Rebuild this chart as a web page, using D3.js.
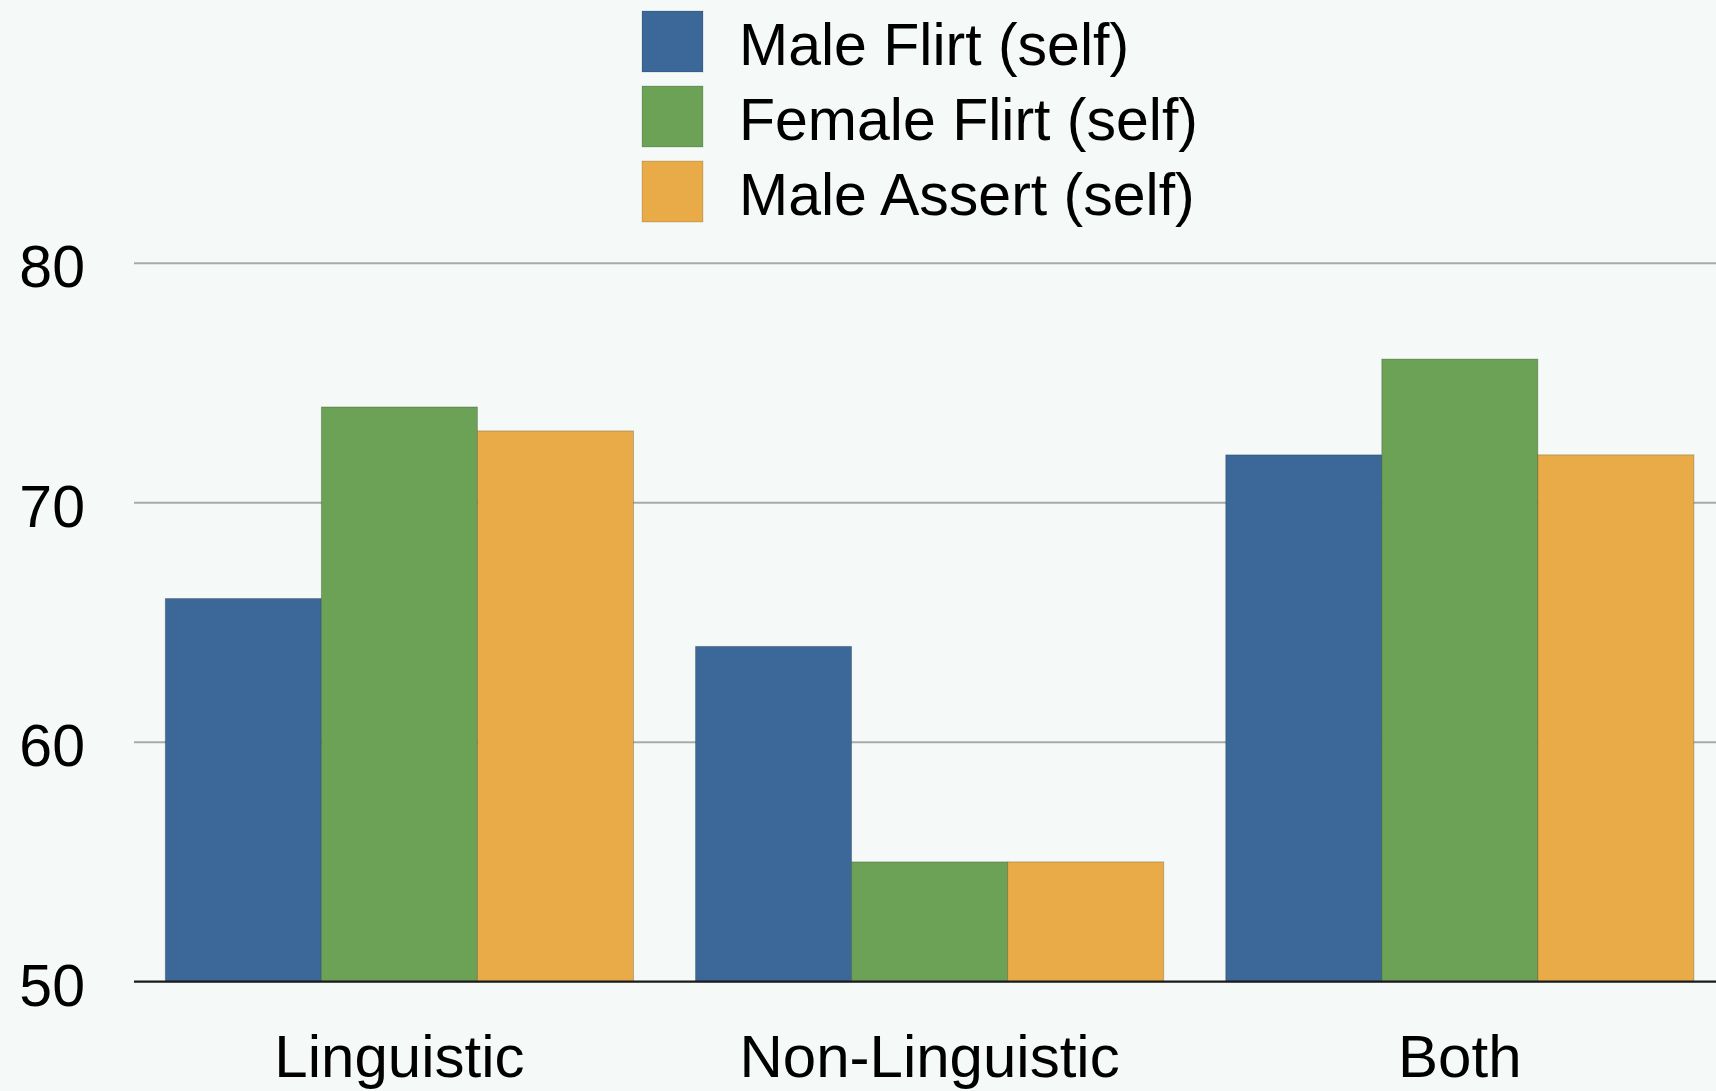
<!DOCTYPE html>
<html>
<head>
<meta charset="utf-8">
<script src="https://cdn.jsdelivr.net/npm/d3@7"></script>
<style>
  html, body { margin: 0; padding: 0; background: #f5f9f8; }
  svg { display: block; }
  text { font-family: "Liberation Sans", Arial, Helvetica, sans-serif; fill: #000; }
</style>
</head>
<body>
<svg id="chart" width="1716" height="1091"></svg>
<script>
const categories = ["Linguistic", "Non-Linguistic", "Both"];
const seriesNames = ["Male Flirt (self)", "Female Flirt (self)", "Male Assert (self)"];
const maleFlirt = [66, 64, 72];
const femaleFlirt = [74, 55, 76];
const maleAssert = [73, 55, 72];
const yTicks = [50, 60, 70, 80];
const colors = ["#3b6898", "#6ca256", "#e9ab47"];

const seriesValues = [maleFlirt, femaleFlirt, maleAssert];
const svg = d3.select("#chart");
const W = 1716, H = 1091;

const y = d3.scaleLinear().domain([50, 80]).range([981.6, 263.3]);
const x0 = d3.scaleBand().domain(categories).range([134.3, 1724.9]).paddingInner(0.117).paddingOuter(0.0585);
const x1 = d3.scaleBand().domain(seriesNames).range([0, x0.bandwidth()]).padding(0);

// gridlines
svg.append("g").selectAll("line")
  .data(yTicks.filter(d => d !== 50))
  .join("line")
  .attr("x1", 134).attr("x2", W)
  .attr("y1", d => y(d)).attr("y2", d => y(d))
  .attr("stroke", "#a9abab").attr("stroke-width", 2);

// bars
const groups = svg.append("g").selectAll("g")
  .data(categories)
  .join("g")
  .attr("transform", d => `translate(${x0(d)},0)`);

groups.selectAll("rect")
  .data((c, i) => seriesNames.map((s, j) => ({ s, j, v: seriesValues[j][i] })))
  .join("rect")
  .attr("x", d => x1(d.s))
  .attr("y", d => y(d.v))
  .attr("width", x1.bandwidth())
  .attr("height", d => y(50) - y(d.v))
  .attr("fill", d => colors[d.j])
  .attr("stroke", "rgba(0,0,0,0.22)")
  .attr("stroke-width", 1);

// baseline
svg.append("line")
  .attr("x1", 134).attr("x2", W)
  .attr("y1", y(50)).attr("y2", y(50))
  .attr("stroke", "#1a1a1a").attr("stroke-width", 2.2);

// y tick labels
svg.append("g").selectAll("text")
  .data(yTicks)
  .join("text")
  .attr("x", 85)
  .attr("y", d => y(d) + 24)
  .attr("text-anchor", "end")
  .attr("font-size", 59)
  .text(d => d);

// x category labels
svg.append("g").selectAll("text")
  .data(categories)
  .join("text")
  .attr("x", d => x0(d) + x0.bandwidth() / 2)
  .attr("y", 1077)
  .attr("text-anchor", "middle")
  .attr("font-size", 60)
  .text(d => d);

// legend
const legend = svg.append("g").selectAll("g")
  .data(seriesNames)
  .join("g")
  .attr("transform", (d, i) => `translate(642,${11 + i * 75})`);
legend.append("rect")
  .attr("width", 61).attr("height", 61)
  .attr("fill", (d, i) => colors[i])
  .attr("stroke", "rgba(0,0,0,0.15)").attr("stroke-width", 1);
legend.append("text")
  .attr("x", 97)
  .attr("y", 54)
  .attr("font-size", 59)
  .text(d => d);
</script>
</body>
</html>
